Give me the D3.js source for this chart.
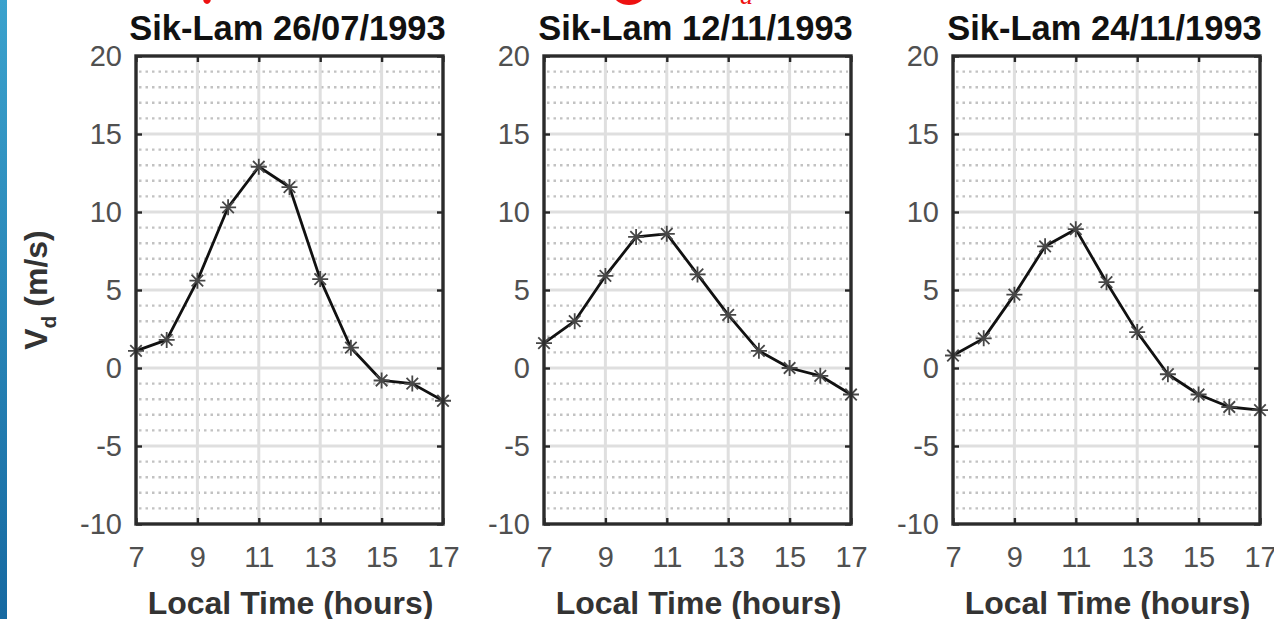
<!DOCTYPE html>
<html>
<head>
<meta charset="utf-8">
<script src="https://cdn.jsdelivr.net/npm/d3@7"></script>
<style>
  html, body { margin: 0; padding: 0; background: #fff; }
  svg { display: block; }
</style>
</head>
<body>
<svg id="chart" width="1274" height="619"></svg>
<script>
// Local time (hours) sampled for each day
const hours = [7, 8, 9, 10, 11, 12, 13, 14, 15, 16, 17];
// Station name and dates, one per panel
const station = "Sik-Lam";
const dates = ["26/07/1993", "12/11/1993", "24/11/1993"];
// Vertical drift velocity Vd (m/s) per day
const vdJul26 = [1.1, 1.8, 5.6, 10.3, 12.9, 11.6, 5.7, 1.3, -0.8, -1.0, -2.1];
const vdNov12 = [1.6, 3.0, 5.9, 8.4, 8.6, 6.0, 3.4, 1.1, 0.0, -0.5, -1.7];
const vdNov24 = [0.8, 1.9, 4.7, 7.8, 8.9, 5.5, 2.3, -0.4, -1.7, -2.5, -2.7];
// Axis ticks
const xTicks = [7, 9, 11, 13, 15, 17];
const yTicks = [-10, -5, 0, 5, 10, 15, 20];
const yMinorTicks = d3.range(-9, 20).filter(v => v % 5 !== 0);

const series = [vdJul26, vdNov12, vdNov24];
const svg = d3.select("#chart");
const font = "'Liberation Sans', Arial, sans-serif";

// slide accent strip on the left edge
const grad = svg.append("defs").append("linearGradient")
  .attr("id", "strip").attr("x1", 0).attr("y1", 0).attr("x2", 0).attr("y2", 1);
grad.append("stop").attr("offset", "0%").attr("stop-color", "#3ba2cd");
grad.append("stop").attr("offset", "100%").attr("stop-color", "#1669a1");
svg.append("rect").attr("x", 0).attr("y", 0).attr("width", 7).attr("height", 619)
  .attr("fill", "url(#strip)");

// remnants of the red slide heading above the panels
const heading = svg.append("g").attr("fill", "#ee1111");
heading.append("ellipse").attr("cx", 207).attr("cy", -2).attr("rx", 4).attr("ry", 6);
heading.append("ellipse").attr("cx", 629).attr("cy", -5).attr("rx", 15).attr("ry", 10);
heading.append("text").attr("x", 740).attr("y", 4)
  .attr("font-family", "'Liberation Serif', 'Times New Roman', serif")
  .attr("font-style", "italic").attr("font-size", 26).text("d");

const panelLefts = [136, 544, 953];
const panelW = 307;
const plotTop = 56, plotBottom = 524;

const y = d3.scaleLinear().domain([-10, 20]).range([plotBottom, plotTop]);

const asterisk = s => {
  const d = s * 0.72;
  return `M${-s},0H${s}M0,${-s}V${s}M${-d},${-d}L${d},${d}M${-d},${d}L${d},${-d}`;
};

series.forEach((vals, i) => {
  const left = panelLefts[i];
  const x = d3.scaleLinear().domain([7, 17]).range([left, left + panelW]);
  const g = svg.append("g");

  // minor horizontal grid (dotted)
  g.append("g").selectAll("line").data(yMinorTicks).join("line")
    .attr("x1", left + 3).attr("x2", left + panelW - 3)
    .attr("y1", d => y(d)).attr("y2", d => y(d))
    .attr("stroke", "#c2c2c2").attr("stroke-width", 2.4)
    .attr("stroke-dasharray", "2.5,4");

  // major grid
  g.append("g").selectAll("line").data(yTicks.slice(1, -1)).join("line")
    .attr("x1", left).attr("x2", left + panelW)
    .attr("y1", d => y(d)).attr("y2", d => y(d))
    .attr("stroke", "#dfdfdf").attr("stroke-width", 3);
  g.append("g").selectAll("line").data(xTicks.slice(1, -1)).join("line")
    .attr("x1", d => x(d)).attr("x2", d => x(d))
    .attr("y1", plotTop).attr("y2", plotBottom)
    .attr("stroke", "#dfdfdf").attr("stroke-width", 3);

  // axes: left/bottom with labels, top/right as box with inward ticks
  const axL = d3.axisLeft(y).tickValues(yTicks).tickSize(-6).tickPadding(14)
    .tickFormat(d => String(d));
  const axR = d3.axisRight(y).tickValues(yTicks).tickSize(-6).tickFormat("");
  const axB = d3.axisBottom(x).tickValues(xTicks).tickSize(-6).tickPadding(22)
    .tickFormat(d => String(d));
  const axT = d3.axisTop(x).tickValues(xTicks).tickSize(-6).tickFormat("");

  const styleAxis = sel => {
    sel.select(".domain").remove();
    sel.selectAll(".tick line").attr("stroke", "#262626").attr("stroke-width", 2.4);
    sel.selectAll(".tick text").attr("fill", "#505050")
      .attr("font-family", font).attr("font-size", 29);
  };
  g.append("g").attr("transform", `translate(${left},0)`).call(axL).call(styleAxis);
  g.append("g").attr("transform", `translate(${left + panelW},0)`).call(axR).call(styleAxis);
  g.append("g").attr("transform", `translate(0,${plotBottom})`).call(axB).call(styleAxis);
  g.append("g").attr("transform", `translate(0,${plotTop})`).call(axT).call(styleAxis);

  // data line and asterisk markers
  const line = d3.line().x((d, j) => x(hours[j])).y(d => y(d));
  g.append("path").datum(vals).attr("d", line)
    .attr("fill", "none").attr("stroke", "#111").attr("stroke-width", 2.8)
    .attr("stroke-linejoin", "round");
  g.append("g").selectAll("path").data(vals).join("path")
    .attr("transform", (d, j) => `translate(${x(hours[j])},${y(d)})`)
    .attr("d", asterisk(8))
    .attr("fill", "none").attr("stroke", "#474747").attr("stroke-width", 1.8);

  // axes box
  g.append("rect").attr("x", left).attr("y", plotTop)
    .attr("width", panelW).attr("height", plotBottom - plotTop)
    .attr("fill", "none").attr("stroke", "#2b2b2b").attr("stroke-width", 3.4);

  // panel title
  g.append("text").attr("x", left + panelW / 2 - 2).attr("y", 40)
    .attr("text-anchor", "middle").attr("font-family", font)
    .attr("font-weight", "bold").attr("font-size", 34.5).attr("fill", "#111")
    .text(`${station} ${dates[i]}`);

  // x-axis label
  g.append("text").attr("x", left + panelW / 2 + 1).attr("y", 614)
    .attr("text-anchor", "middle").attr("font-family", font)
    .attr("font-weight", "bold").attr("font-size", 32).attr("fill", "#333")
    .text("Local Time (hours)");
});

// y-axis label with subscript
const yl = svg.append("text")
  .attr("transform", "translate(47,290) rotate(-90)")
  .attr("text-anchor", "middle").attr("font-family", font)
  .attr("font-weight", "bold").attr("font-size", 32).attr("fill", "#333");
yl.append("tspan").text("V");
yl.append("tspan").attr("font-size", 21).attr("dy", 9).text("d");
yl.append("tspan").attr("dy", -9).text(" (m/s)");
</script>
</body>
</html>
